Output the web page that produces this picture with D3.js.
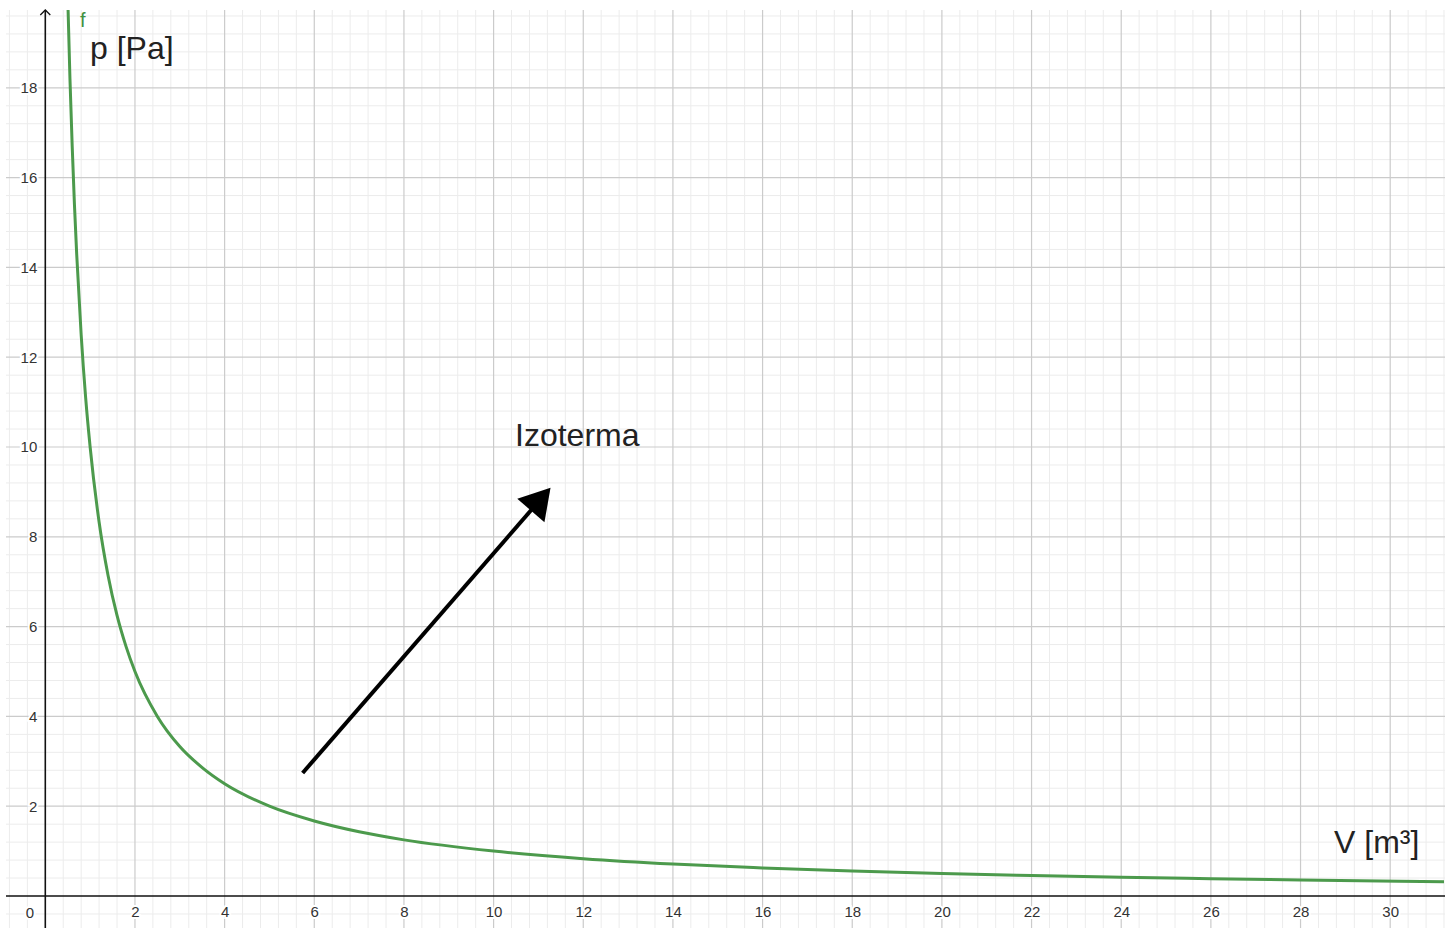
<!DOCTYPE html>
<html>
<head>
<meta charset="utf-8">
<script src="https://cdn.jsdelivr.net/npm/d3@7"></script>
<style>
  html, body { margin: 0; padding: 0; background: #fff; }
  svg { display: block; font-family: "Liberation Sans", Arial, sans-serif; }
</style>
</head>
<body>
<svg id="chart" width="1452" height="928"></svg>
<script>
// ---- data ----
const volume   = [0.49, 0.55, 0.6, 0.65, 0.7, 0.8, 0.9, 1.0, 1.2, 1.4, 1.6, 1.8, 2.0, 2.5, 3.0, 3.5, 4, 5, 6, 7, 8, 10, 12, 14, 16, 18, 20, 22, 24, 26, 28, 31.2];
const pressure = [20.4, 18.2, 16.7, 15.4, 14.3, 12.5, 11.1, 10.0, 8.33, 7.14, 6.25, 5.56, 5.0, 4.0, 3.33, 2.86, 2.5, 2.0, 1.67, 1.43, 1.25, 1.0, 0.83, 0.71, 0.625, 0.556, 0.5, 0.455, 0.417, 0.385, 0.357, 0.32];
const xTicks = [2, 4, 6, 8, 10, 12, 14, 16, 18, 20, 22, 24, 26, 28, 30];
const yTicks = [2, 4, 6, 8, 10, 12, 14, 16, 18];
const xLabel = "V [m³]";
const yLabel = "p [Pa]";
const curveName = "f";
const annotationText = "Izoterma";
const arrowFrom = [5.74, 2.74];
const arrowTo = [11.27, 9.09];

// ---- layout ----
const W = 1452, H = 928;
const plot = { left: 6, right: 1445, top: 10, bottom: 928 };
const x = d3.scaleLinear().domain([0, 30]).range([45.3, 1390.2]);
const y = d3.scaleLinear().domain([0, 18]).range([896, 87.8]);

const svg = d3.select("#chart");
svg.append("rect").attr("width", W).attr("height", H).attr("fill", "#fff");

const defs = svg.append("defs");
defs.append("clipPath").attr("id", "clip")
  .append("rect")
  .attr("x", plot.left).attr("y", plot.top)
  .attr("width", plot.right - plot.left).attr("height", plot.bottom - plot.top);

const xMin = x.invert(plot.left), xMax = x.invert(plot.right);
const yMax = y.invert(plot.top), yMin = y.invert(plot.bottom);

function stepVals(lo, hi, step) {
  const out = [];
  for (let k = Math.ceil(lo / step - 1e-9); k * step <= hi + 1e-9; k++) out.push(+(k * step).toFixed(6));
  return out;
}
const isMajor = v => Math.abs(v / 2 - Math.round(v / 2)) < 1e-6;

const grid = svg.append("g").attr("clip-path", "url(#clip)");
// minor grid
const minorX = stepVals(xMin, xMax, 0.4).filter(v => !isMajor(v));
const minorY = stepVals(yMin, yMax, 0.4).filter(v => !isMajor(v));
grid.selectAll(".mx").data(minorX).join("line")
  .attr("x1", d => x(d)).attr("x2", d => x(d))
  .attr("y1", plot.top).attr("y2", plot.bottom)
  .attr("stroke", "#ececec").attr("stroke-width", 1);
grid.selectAll(".my").data(minorY).join("line")
  .attr("y1", d => y(d)).attr("y2", d => y(d))
  .attr("x1", plot.left).attr("x2", plot.right)
  .attr("stroke", "#ececec").attr("stroke-width", 1);
// major grid
const majorX = stepVals(xMin, xMax, 2).filter(v => v !== 0);
const majorY = stepVals(yMin, yMax, 2).filter(v => v !== 0);
grid.selectAll(".Mx").data(majorX).join("line")
  .attr("x1", d => x(d)).attr("x2", d => x(d))
  .attr("y1", plot.top).attr("y2", plot.bottom)
  .attr("stroke", "#cbcbcb").attr("stroke-width", 1.2);
grid.selectAll(".My").data(majorY).join("line")
  .attr("y1", d => y(d)).attr("y2", d => y(d))
  .attr("x1", plot.left).attr("x2", plot.right)
  .attr("stroke", "#cbcbcb").attr("stroke-width", 1.2);

// tick labels via axes
const labelStyle = g => {
  g.select(".domain").remove();
  g.selectAll(".tick line").remove();
  g.selectAll("text")
    .attr("fill", "#333")
    .attr("font-size", 15)
    .attr("font-family", "'Liberation Sans', Arial, sans-serif")
    .attr("stroke", "#fff").attr("stroke-width", 4)
    .attr("paint-order", "stroke");
};
svg.append("g")
  .attr("transform", `translate(${x(0)},0)`)
  .call(d3.axisLeft(y).tickValues(yTicks).tickSize(0).tickPadding(8).tickFormat(d3.format("d")))
  .call(labelStyle);
svg.append("g")
  .attr("transform", `translate(0,${y(0)})`)
  .call(d3.axisBottom(x).tickValues(xTicks).tickSize(0).tickPadding(10.5).tickFormat(d3.format("d")))
  .call(labelStyle);
svg.append("text")
  .attr("x", 30).attr("y", 918)
  .attr("text-anchor", "middle")
  .attr("font-size", 15).attr("fill", "#333")
  .attr("stroke", "#fff").attr("stroke-width", 4).attr("paint-order", "stroke")
  .text("0");

// axes lines
svg.append("line")
  .attr("x1", plot.left).attr("x2", plot.right)
  .attr("y1", y(0)).attr("y2", y(0))
  .attr("stroke", "#111").attr("stroke-width", 1.6);
svg.append("line")
  .attr("x1", x(0)).attr("x2", x(0))
  .attr("y1", plot.top).attr("y2", plot.bottom)
  .attr("stroke", "#111").attr("stroke-width", 1.6);
svg.append("path")
  .attr("d", `M${x(0) - 5},${plot.top + 5} L${x(0)},${plot.top} L${x(0) + 5},${plot.top + 5}`)
  .attr("fill", "none").attr("stroke", "#111").attr("stroke-width", 1.3);

// curve
const pts = volume.map((v, i) => [v, pressure[i]]);
const line = d3.line().x(d => x(d[0])).y(d => y(d[1])).curve(d3.curveMonotoneX);
svg.append("g").attr("clip-path", "url(#clip)")
  .append("path")
  .attr("d", line(pts))
  .attr("fill", "none")
  .attr("stroke", "#4c9a4c")
  .attr("stroke-width", 3)
  .attr("stroke-linejoin", "round");

svg.append("text")
  .attr("x", 80).attr("y", 27)
  .attr("font-size", 20).attr("fill", "#3f913f")
  .text(curveName);

// axis titles
svg.append("text")
  .attr("x", 90).attr("y", 59)
  .attr("font-size", 32).attr("fill", "#222")
  .text(yLabel);
svg.append("text")
  .attr("x", 1334).attr("y", 853)
  .attr("font-size", 32).attr("fill", "#222")
  .text(xLabel);

// annotation arrow
const p0 = [x(arrowFrom[0]), y(arrowFrom[1])];
const p1 = [x(arrowTo[0]), y(arrowTo[1])];
const dx = p1[0] - p0[0], dy = p1[1] - p0[1];
const len = Math.hypot(dx, dy);
const ux = dx / len, uy = dy / len;
const headLen = 30, headHalf = 18;
const base = [p1[0] - ux * headLen, p1[1] - uy * headLen];
svg.append("line")
  .attr("x1", p0[0]).attr("y1", p0[1])
  .attr("x2", base[0] + ux * 2).attr("y2", base[1] + uy * 2)
  .attr("stroke", "#000").attr("stroke-width", 4);
svg.append("polygon")
  .attr("points", [
    p1,
    [base[0] - uy * headHalf, base[1] + ux * headHalf],
    [base[0] + uy * headHalf, base[1] - ux * headHalf]
  ].map(p => p.join(",")).join(" "))
  .attr("fill", "#000");

svg.append("text")
  .attr("x", 515).attr("y", 446)
  .attr("font-size", 32).attr("fill", "#222")
  .text(annotationText);
</script>
</body>
</html>
